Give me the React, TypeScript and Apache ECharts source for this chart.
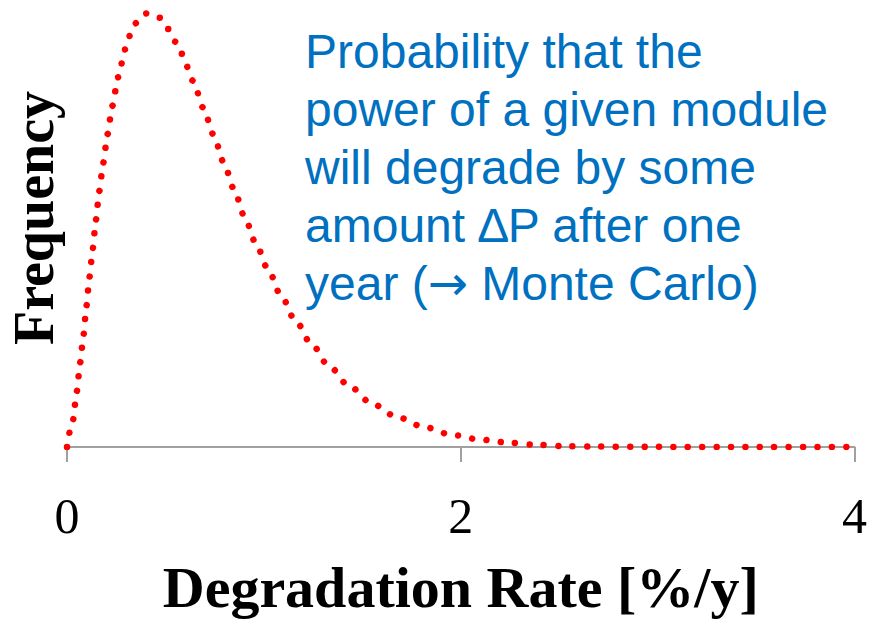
import React, { useEffect, useRef } from "react";
import * as echarts from "echarts";

// Degradation rate [%/y] (x) and relative frequency (y)
const rate = [0, 0.03, 0.05, 0.067, 0.084, 0.099, 0.114, 0.131, 0.147, 0.164, 0.184, 0.206, 0.23, 0.26, 0.295, 0.318, 0.352, 0.404, 0.471, 0.514, 0.551, 0.583, 0.64, 0.692, 0.744, 0.794, 0.848, 0.899, 0.956, 1.019, 1.084, 1.156, 1.238, 1.328, 1.432, 1.549, 1.677, 1.813, 1.955, 2.098, 2.243, 2.388, 2.534, 2.678, 3.0, 3.5, 4.0];
const freq = [0, 0.062, 0.129, 0.195, 0.26, 0.326, 0.392, 0.458, 0.524, 0.59, 0.655, 0.721, 0.786, 0.852, 0.916, 0.947, 0.977, 0.999, 0.989, 0.963, 0.934, 0.906, 0.844, 0.782, 0.72, 0.658, 0.595, 0.534, 0.473, 0.412, 0.352, 0.295, 0.24, 0.188, 0.141, 0.1, 0.069, 0.046, 0.028, 0.017, 0.01, 0.005, 0.002, 0.001, 0.0003, 0.0001, 0];

const xAxisName = "Degradation Rate [%/y]";
const yAxisName = "Frequency";
const noteLines = [
  "Probability that the",
  "power of a given module",
  "will degrade by some",
  "amount \u2206P after one",
  "year ({arr|\u2192} Monte Carlo)",
];

const SERIF = '"Times New Roman", "Liberation Serif", serif';
const SANS = 'Arial, "Liberation Sans", sans-serif';

export default function App() {
  const ref = useRef<HTMLDivElement>(null);
  useEffect(() => {
    if (!ref.current) return;
    const chart = echarts.init(ref.current, undefined, { renderer: "svg" });
    const data = rate.map((r, i) => [r, freq[i]]);
    chart.setOption({
      animation: false,
      backgroundColor: "#ffffff",
      grid: { left: 67, right: 7, top: 13, bottom: 170 },
      xAxis: {
        type: "value",
        min: 0,
        max: 4,
        interval: 2,
        name: xAxisName,
        nameLocation: "middle",
        nameGap: 111,
        nameTextStyle: { fontFamily: SERIF, fontSize: 58, fontWeight: "bold", color: "#000" },
        axisLine: { show: true, lineStyle: { color: "#a0a0a0", width: 2 } },
        axisTick: { show: true, length: 15, lineStyle: { color: "#a0a0a0", width: 2 } },
        axisLabel: { margin: 44, fontFamily: SERIF, fontSize: 50, color: "#000" },
        splitLine: { show: false },
      },
      yAxis: {
        type: "value",
        min: 0,
        max: 1,
        show: false,
      },
      series: [
        {
          type: "line",
          data,
          symbol: "none",
          showSymbol: false,
          smooth: 0.3,
          smoothMonotone: "x",
          lineStyle: { color: "#ff0000", width: 6.5, type: [0.001, 14.4], cap: "round" },
          z: 3,
        },
      ],
      graphic: [
        {
          type: "text",
          x: 305,
          y: 22,
          style: {
            text: noteLines.join("\n"),
            fill: "#0070c0",
            fontFamily: SANS,
            fontSize: 48,
            lineHeight: 58,
            textAlign: "left",
            textVerticalAlign: "top",
            rich: {
              arr: {
                fontFamily: '"DejaVu Sans", sans-serif',
                fontSize: 48,
                lineHeight: 58,
                fill: "#0070c0",
              },
            },
          },
        },
        {
          type: "text",
          x: 34,
          y: 218,
          rotation: Math.PI / 2,
          style: {
            text: yAxisName,
            fill: "#000",
            font: `bold 56px ${SERIF}`,
            textAlign: "center",
            textVerticalAlign: "middle",
          },
        },
      ],
    });
    return () => chart.dispose();
  }, []);
  return (
    <div
      ref={ref}
      style={{ position: "fixed", left: 0, top: 0, width: 870, height: 621 }}
    />
  );
}
